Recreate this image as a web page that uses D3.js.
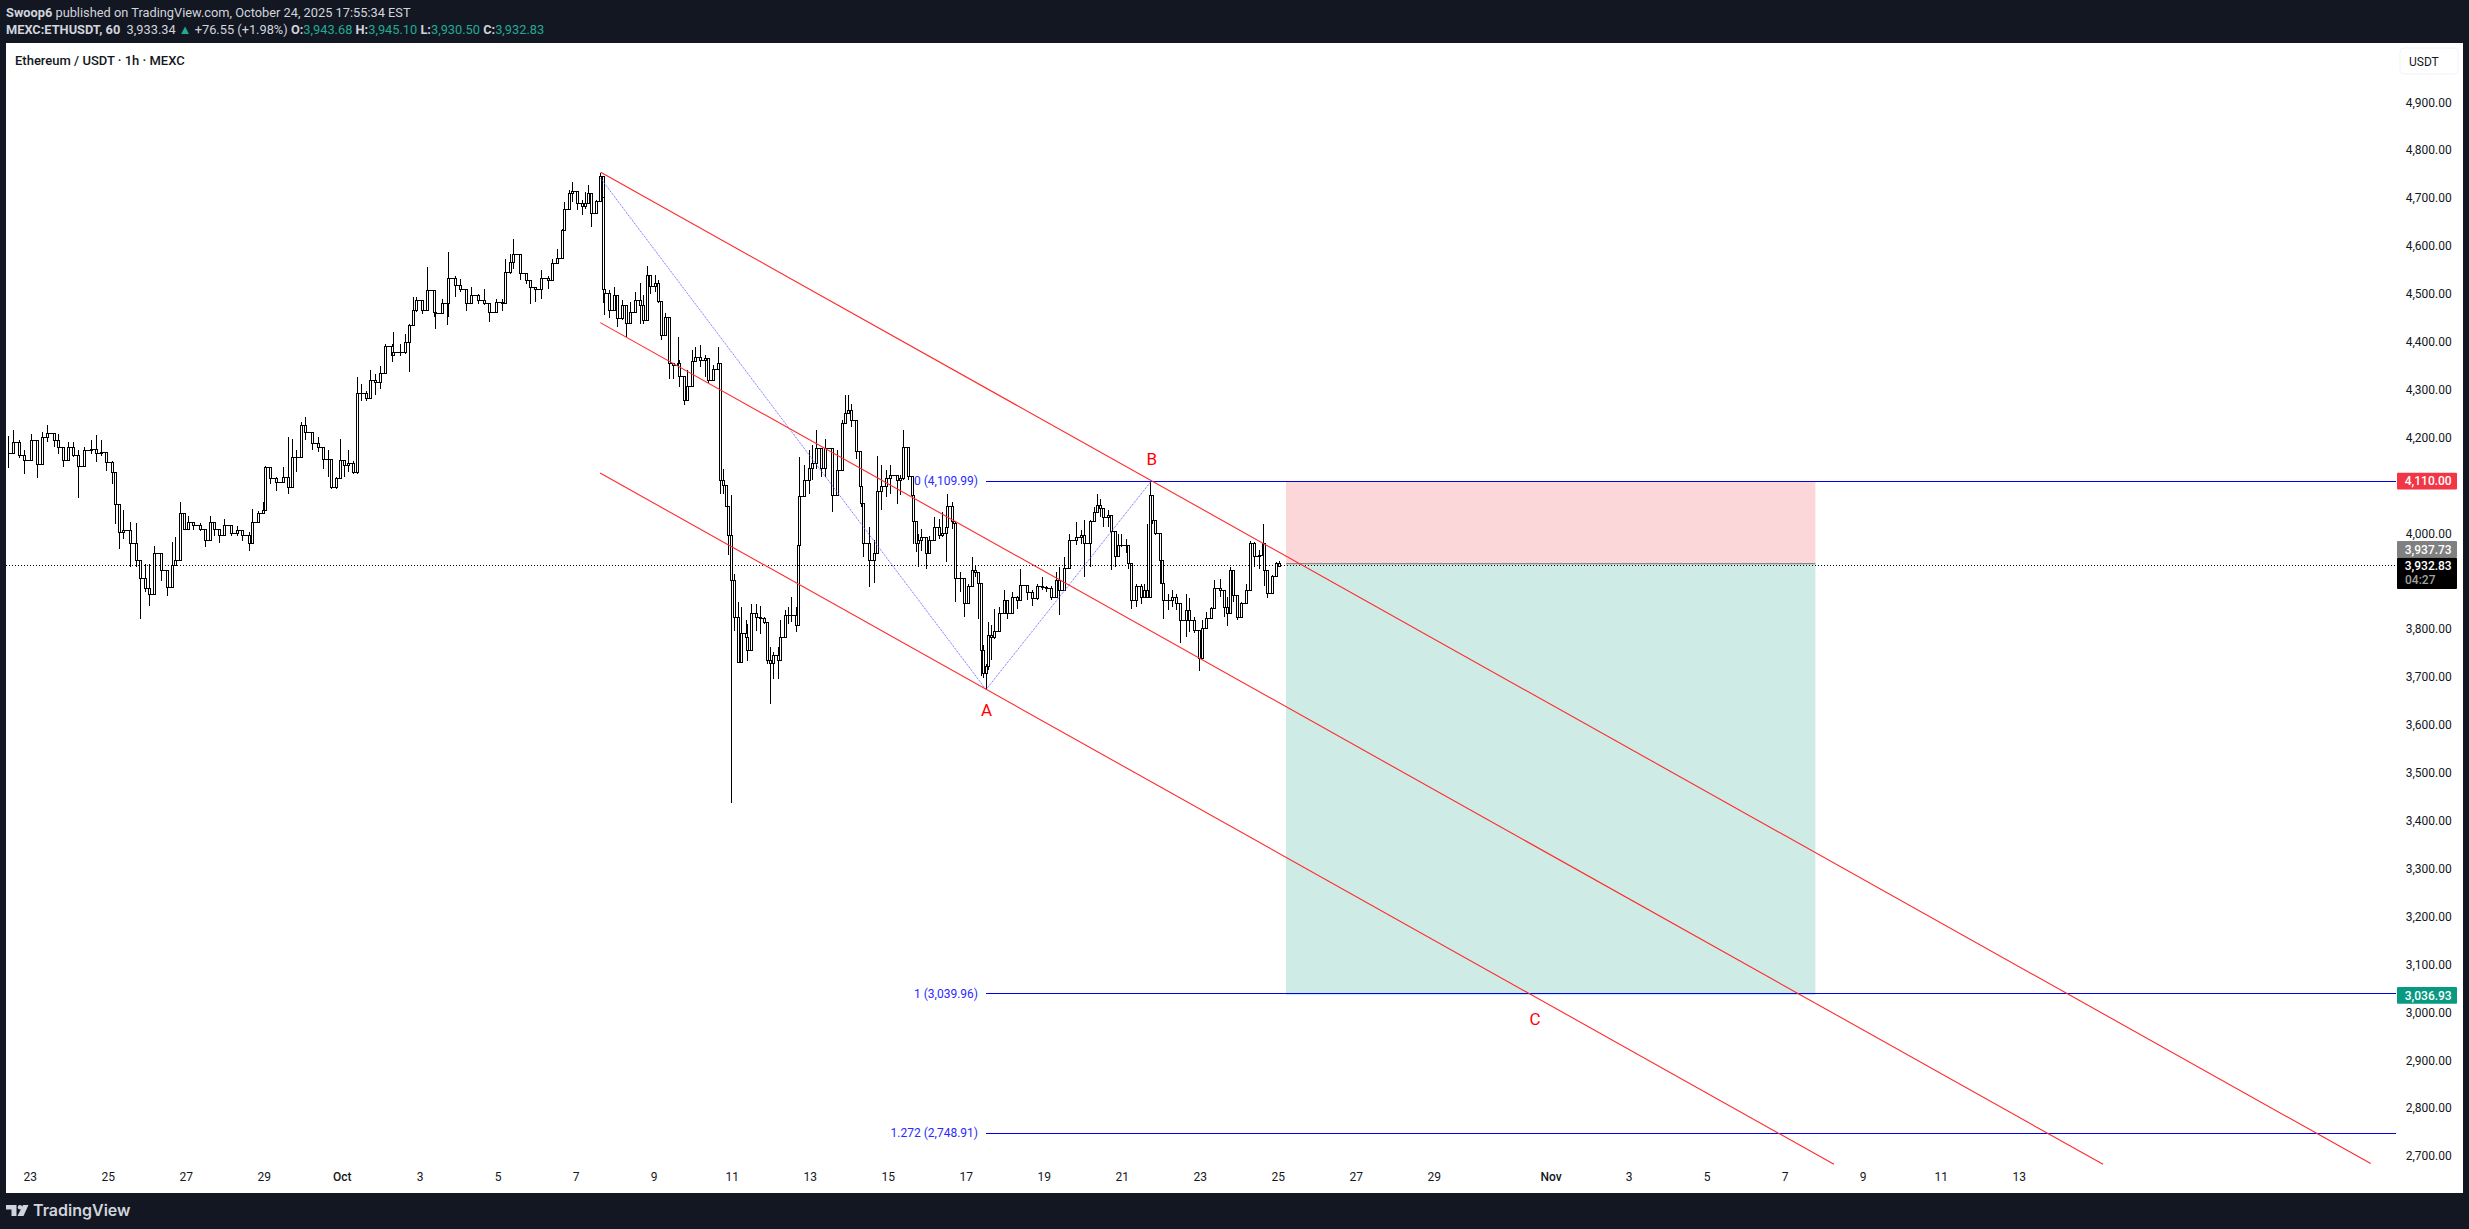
<!DOCTYPE html>
<html>
<head>
<meta charset="utf-8">
<title>ETHUSDT</title>
<script src="https://cdn.jsdelivr.net/npm/d3@7"></script>
<style>
  html, body { margin: 0; padding: 0; background: #131722; }
  svg { display: block; font-family: Roboto, sans-serif; }
</style>
</head>
<body>
<div id="chart"></div>
<script>
// hours since Sep 22 00:00, one entry per drawn bar
var barHours = [
  11,14,18,21,25,29,32,35,39,42, 45,48,51,54,58,62,65,68,71,75,
  77,79,82,86,90,92,95,98,101,105, 109,112,114,117,119,122,125,129,132,135,
  138,141,144,148,152,155,159,161,165,168, 169,172,176,180,183,186,188,191,194,198,
  202,205,208,210,213,215,218,220,223,226, 228,231,234,237,240,243,247,248,252,255,
  258,260,262,266,269,273,274,278,281,282, 286,289,293,296,300,304,307,311,315,317,
  320,322,326,330,332,335,339,343,346,349, 352,
  353,356,358,361,364,366,368,370,373,375, 377,377,378,381,384,386,389,391,394,397,
  400,402,404,406,409,411,413,415,418,420, 423,424,427,429,432,434,437,440,442,445, 448,
  449,451,453,454,456,458,460,462,465,466, 468,471,474,476,478,480,482,485,486,489,
  491,493,496,497,498,501,504,506,508,511, 514,518,521,524,526,528,530,533,535,536,
  537,541,544,546,548,551,554,558,560,562, 565,567,568,570,571,573,576,578,581,584,
  586,588,589,592,593,594,597,599,602,604, 606,608,610,611,613,614,616,618,621,624,
  626,629,632,634,638,641,644,647,650,653, 656,658,661,664,668,671,673,677,679,681,
  683,685,688,690,692,694,696,699,700,702, 705,708,710,712,714,715,717,720,721,722,
  725,727,730,732,736,738,741,744,746,748, 751,753,757,759,761,763,765,767,770,773,
  775,778,781,783,784,786,789,791,793
];
var highs = [
  4205,4216,4195,4174,4209,4195,4212,4228,4209,4209, 4181,4191,4191,4174,4182,4195,4206,4195,4170,4153,
  4101,4042,4050,4024,4022,3944,3937,3937,3975,3948, 3916,3982,3993,4067,4042,4038,4024,4022,4010,4038,
  4021,4007,4031,4010,4017,4007,4003,4052,4048,4066, 4142,4135,4118,4139,4202,4198,4174,4233,4243,4205,
  4202,4174,4174,4125,4118,4198,4149,4174,4153,4327, 4313,4299,4341,4334,4351,4396,4396,4421,4396,4417,
  4438,4494,4494,4483,4557,4477,4473,4490,4487,4588, 4539,4532,4490,4515,4501,4511,4477,4490,4490,4574,
  4584,4616,4553,4543,4522,4515,4550,4539,4574,4595, 4637,
  4693,4717,4735,4704,4697,4714,4728,4682,4696,4754, 4745,4606,4523,4508,4516,4498,4488,4463,4484,4505,
  4523,4498,4559,4540,4540,4530,4481,4460,4446,4355, 4411,4363,4328,4342,4383,4390,4394,4373,4348,4352, 4390,
  4355,4136,4098,4025,4080,3917,3858,3847,3819,3812, 3854,3854,3850,3826,3812,3763,3753,3763,3819,3840,
  3847,3868,3847,4025,4160,4143,4174,4185,4216,4146, 4197,4164,4174,4237,4289,4289,4272,4230,4157,4126,
  4028,4014,3987,4162,4143,4133,4143,4122,4122,4216, 4157,4104,4104,4014,4000,4010,3979,3996,4035,4031,
  4045,4045,4084,4066,4021,3965,3920,3882,3896,3951, 3934,3920,3822,3767,3729,3816,3809,3844,3847,3882,
  3847,3879,3871,3927,3889,3882,3896,3910,3892,3892, 3920,3930,3951,4000,4025,4007,4028,4028,4056,4084,
  4073,4053,4049,4039,3976,4000,4000,3990,3952,3920, 3896,3896,3896,4021,4108,4039,4021,3966,3945,3886,
  3875,3882,3875,3840,3875,3865,3826,3785,3819,3837, 3847,3903,3906,3865,3868,3931,3924,3858,3858,3896,
  3986,3983,3966,4021,3979,3889,3913,3941,3943
];
var lows = [
  4138,4167,4158,4125,4174,4117,4174,4191,4181,4167, 4139,4160,4160,4075,4167,4167,4149,4163,4132,4104,
  4021,3968,3989,3930,3930,3822,3878,3850,3916,3902, 3871,3906,3944,3979,4007,4010,4007,4005,3972,3993,
  3996,3980,4007,3996,3996,3986,3965,4017,4031,4042, 4048,4104,4090,4108,4083,4129,4129,4184,4195,4174,
  4170,4135,4118,4094,4094,4149,4118,4129,4125,4125, 4278,4278,4313,4289,4303,4334,4358,4372,4372,4376,
  4337,4445,4463,4459,4483,4452,4428,4470,4435,4452, 4494,4504,4466,4487,4480,4477,4442,4470,4466,4529,
  4543,4553,4529,4522,4480,4483,4490,4511,4529,4564, 4577,
  4637,4679,4693,4675,4665,4679,4696,4640,4679,4693, 4594,4481,4456,4450,4467,4432,4446,4411,4439,4480,
  4439,4439,4495,4501,4505,4481,4404,4432,4324,4324, 4349,4307,4269,4305,4335,4363,4349,4327,4314,4321, 4348,
  4084,4084,4056,3955,3437,3798,3730,3760,3777,3735, 3819,3798,3791,3812,3728,3644,3697,3697,3777,3816,
  3812,3816,3795,3809,4035,4080,4084,4112,4136,4118, 4118,4045,4094,4160,4230,4251,4223,4157,4091,4056,
  3952,3889,3898,4053,4049,4077,4084,4063,4080,4112, 4112,4077,3979,3962,3930,3965,3927,3958,3993,3990,
  3993,3941,4031,4010,3969,3857,3878,3826,3861,3896, 3910,3822,3704,3698,3675,3715,3736,3781,3816,3840,
  3823,3844,3844,3875,3861,3850,3861,3882,3878,3861, 3875,3830,3903,3955,3976,3979,3910,3931,4025,4049,
  4035,4014,4014,3924,3931,3959,3973,3959,3927,3844, 3847,3854,3875,3865,4000,4021,3997,3896,3896,3823,
  3840,3847,3840,3772,3785,3795,3792,3714,3753,3816, 3826,3847,3868,3826,3807,3875,3858,3819,3830,3872,
  3896,3931,3927,3945,3892,3866,3889,3927,3931
];
var closes = [
  4167,4191,4163,4154,4195,4145,4202,4209,4195,4181, 4153,4181,4163,4140,4174,4177,4167,4170,4149,4129,
  4062,4003,4007,3979,3944,3906,3885,3874,3958,3923, 3888,3934,3944,4042,4010,4024,4017,4010,3986,4024,
  4010,3996,4017,4001,4007,3996,3979,4024,4042,4048, 4139,4115,4108,4118,4097,4160,4160,4226,4212,4188,
  4181,4156,4156,4097,4115,4153,4142,4146,4129,4292, 4292,4282,4320,4316,4334,4390,4372,4379,4379,4400,
  4435,4466,4487,4466,4508,4463,4459,4480,4480,4532, 4518,4511,4480,4497,4487,4480,4463,4483,4480,4546,
  4567,4584,4543,4529,4515,4511,4532,4529,4564,4574, 4633,
  4676,4711,4714,4689,4683,4689,4710,4669,4693,4745, 4703,4509,4502,4467,4498,4450,4477,4439,4462,4488,
  4477,4445,4540,4516,4523,4484,4415,4452,4356,4352, 4356,4328,4279,4308,4359,4369,4362,4366,4321,4342, 4355,
  4112,4101,4056,3997,3903,3826,3732,3791,3784,3757, 3833,3826,3823,3814,3736,3729,3746,3736,3784,3830,
  3830,3830,3809,3976,4077,4112,4136,4146,4178,4136, 4178,4080,4133,4230,4251,4258,4237,4171,4098,4063,
  3980,3945,3959,4088,4098,4115,4122,4112,4115,4181, 4119,4080,4025,3979,3986,3993,3958,3986,4014,3996,
  4000,4014,4056,4025,4021,3906,3906,3854,3889,3923, 3920,3896,3757,3708,3722,3788,3784,3795,3833,3861,
  3833,3868,3861,3892,3878,3864,3889,3888,3885,3868, 3903,3882,3927,3986,3993,3997,3979,4025,4045,4060,
  4053,4035,4039,4004,3952,3976,3976,3976,3938,3861, 3889,3868,3882,3868,4080,4028,4000,3945,3896,3861,
  3861,3868,3854,3819,3840,3819,3798,3739,3802,3823, 3844,3886,3882,3847,3833,3924,3872,3826,3854,3882,
  3979,3952,3955,3979,3924,3875,3911,3938,3932
];

// 4,100 and 3,900 sit behind the price tags in the picture, so they are left out
var priceTicks = [4900,4800,4700,4600,4500,4400,4300,4200,4000,3800,3700,3600,3500,3400,3300,3200,3100,3000,2900,2800,2700];
var timeTickDates = ["2025-09-23","2025-09-25","2025-09-27","2025-09-29","2025-10-01","2025-10-03","2025-10-05","2025-10-07","2025-10-09","2025-10-11","2025-10-13","2025-10-15","2025-10-17","2025-10-19","2025-10-21","2025-10-23","2025-10-25","2025-10-27","2025-10-29","2025-11-01","2025-11-03","2025-11-05","2025-11-07","2025-11-09","2025-11-11","2025-11-13"];
var timeTickLabels = ["23","25","27","29","Oct","3","5","7","9","11","13","15","17","19","21","23","25","27","29","Nov","3","5","7","9","11","13"];

// [hours, price] pairs for the drawings
var channelUpper = [[375.4,4754.7],[1464.6,2685.2]];
var channelMiddle = [[375.1,4440.9],[1299.9,2683.7]];
var channelLower = [[375,4126.9],[1134.3,2683.7]];
var zigzag = [[375.4,4742],[612.5,3674.7],[714.2,4109.99]];
var waveNames = ["A","B","C"];
var wavePoints = [[612.9,3632],[714.5,4155.5],[950.3,2987]];

var fibLabels = ["0 (4,109.99)","1 (3,039.96)","1.272 (2,748.91)"];
var fibPrices = [4109.99,3039.96,2748.91];
var fibStartHour = 612.5;

var boxHours = [797.1,1122.9];
var stopPrice = 4110, entryPrice = 3937.73, targetPrice = 3036.93;
var lastPrice = 3932.83;

var width = 2469, height = 1229;
var plot = {left: 6, top: 43, right: 2463, bottom: 1193};
var seriesRight = 2396;

var svg = d3.select("#chart").append("svg")
    .attr("width", width)
    .attr("height", height);

svg.append("rect").attr("width", width).attr("height", height).attr("fill", "#131722");
svg.append("rect")
    .attr("x", plot.left).attr("y", plot.top)
    .attr("width", plot.right - plot.left).attr("height", plot.bottom - plot.top)
    .attr("fill", "#ffffff");

var x = d3.scaleUtc()
    .domain([new Date("2025-09-23T00:00:00Z"), new Date("2025-11-13T00:00:00Z")])
    .range([29.7, 2018.7]);
var y = d3.scaleLinear().domain([4900, 2700]).range([102.7, 1156.5]);

var start = Date.UTC(2025, 8, 22);
function tx(h) { return x(new Date(start + h * 3600000)); }
var clipId = "plot-clip";
svg.append("clipPath").attr("id", clipId).append("rect")
    .attr("x", plot.left).attr("y", plot.top)
    .attr("width", seriesRight - plot.left).attr("height", plot.bottom - plot.top);

var g = svg.append("g").attr("clip-path", "url(#" + clipId + ")");

// long / short box
g.append("rect")
    .attr("x", tx(boxHours[0])).attr("width", tx(boxHours[1]) - tx(boxHours[0]))
    .attr("y", y(stopPrice)).attr("height", y(entryPrice) - y(stopPrice))
    .attr("fill", "#fcd7da");
g.append("rect")
    .attr("x", tx(boxHours[0])).attr("width", tx(boxHours[1]) - tx(boxHours[0]))
    .attr("y", y(entryPrice)).attr("height", y(targetPrice) - y(entryPrice))
    .attr("fill", "#cfebe5");
g.append("line")
    .attr("x1", tx(boxHours[0])).attr("x2", tx(boxHours[1]))
    .attr("y1", y(entryPrice)).attr("y2", y(entryPrice))
    .attr("stroke", "#888888").attr("stroke-width", 1.2);

// bars: open is the previous close, body is hollow
var barIdx = d3.range(barHours.length);
var bars = g.append("g").attr("shape-rendering", "crispEdges");
function openOf(i) { return i > 0 ? closes[i - 1] : closes[i]; }
bars.selectAll("line.wick")
    .data(barIdx)
    .enter().append("line")
    .attr("class", "wick")
    .attr("x1", function (i) { return tx(barHours[i]); })
    .attr("x2", function (i) { return tx(barHours[i]); })
    .attr("y1", function (i) { return y(highs[i]); })
    .attr("y2", function (i) { return y(lows[i]); })
    .attr("stroke", "#000").attr("stroke-width", 1);
bars.selectAll("line.link")
    .data(barIdx.slice(1))
    .enter().append("line")
    .attr("class", "link")
    .attr("x1", function (i) { return tx(barHours[i - 1]); })
    .attr("x2", function (i) { return tx(barHours[i]); })
    .attr("y1", function (i) { return y(closes[i - 1]); })
    .attr("y2", function (i) { return y(closes[i - 1]); })
    .attr("stroke", "#000").attr("stroke-width", 1);
bars.selectAll("rect.body")
    .data(barIdx)
    .enter().append("rect")
    .attr("class", "body")
    .attr("x", function (i) { return tx(barHours[i]) - 1; })
    .attr("width", 2)
    .attr("y", function (i) { return y(Math.max(openOf(i), closes[i])); })
    .attr("height", function (i) { return Math.abs(y(openOf(i)) - y(closes[i])); })
    .attr("fill", "#fff").attr("stroke", "#000").attr("stroke-width", 1);

// last price dotted line
g.append("line")
    .attr("x1", plot.left).attr("x2", seriesRight)
    .attr("y1", y(lastPrice)).attr("y2", y(lastPrice))
    .attr("stroke", "#000").attr("stroke-width", 1).attr("stroke-dasharray", "1,2")
    .attr("shape-rendering", "crispEdges");

// fib levels
g.selectAll("line.fib")
    .data(fibPrices)
    .enter().append("line")
    .attr("class", "fib")
    .attr("x1", tx(fibStartHour)).attr("x2", seriesRight)
    .attr("y1", function (d) { return y(d); })
    .attr("y2", function (d) { return y(d); })
    .attr("stroke", "#0000ee").attr("stroke-width", 1)
    .attr("shape-rendering", "crispEdges");

// zigzag
var pathLine = d3.line()
    .x(function (d) { return tx(d[0]); })
    .y(function (d) { return y(d[1]); });
g.append("path")
    .attr("d", pathLine(zigzag))
    .attr("fill", "none").attr("stroke", "#5a5aff")
    .attr("stroke-width", 1).attr("stroke-dasharray", "1,1");

// channel
[channelUpper, channelMiddle, channelLower].forEach(function (c) {
    g.append("path")
        .attr("d", pathLine(c))
        .attr("fill", "none").attr("stroke", "#ff2a2a").attr("stroke-width", 1.1);
});

svg.selectAll("text.fib-label")
    .data(fibLabels)
    .enter().append("text")
    .attr("class", "fib-label")
    .attr("x", tx(fibStartHour) - 8)
    .attr("y", function (d, i) { return y(fibPrices[i]); })
    .attr("dy", "0.35em")
    .attr("text-anchor", "end")
    .attr("font-size", 12)
    .attr("fill", "#2a2aff")
    .text(function (d) { return d; });

svg.selectAll("text.wave")
    .data(waveNames)
    .enter().append("text")
    .attr("class", "wave")
    .attr("x", function (d, i) { return tx(wavePoints[i][0]); })
    .attr("y", function (d, i) { return y(wavePoints[i][1]); })
    .attr("dy", "0.35em")
    .attr("text-anchor", "middle")
    .attr("font-size", 17)
    .attr("fill", "#ff0000")
    .text(function (d) { return d; });

// price axis
var yAxis = d3.axisRight(y)
    .tickValues(priceTicks)
    .tickSize(0)
    .tickPadding(0)
    .tickFormat(d3.format(",.2f"));
var yG = svg.append("g").attr("transform", "translate(2451.7,-0.5)").call(yAxis);
yG.select(".domain").remove();
yG.selectAll("text")
    .attr("text-anchor", "end")
    .attr("font-family", "Roboto, sans-serif")
    .attr("font-size", 12)
    .attr("fill", "#131722");

// time axis
var tickDates = timeTickDates.map(function (d) { return new Date(d + "T00:00:00Z"); });
var xAxis = d3.axisBottom(x)
    .tickValues(tickDates)
    .tickSize(0)
    .tickPadding(0)
    .tickFormat(function (d, i) { return timeTickLabels[i]; });
var xG = svg.append("g").attr("transform", "translate(0,1172)").call(xAxis);
xG.select(".domain").remove();
xG.selectAll("text")
    .attr("font-family", "Roboto, sans-serif")
    .attr("font-size", 12)
    .attr("fill", "#131722")
    .attr("font-weight", function (d, i) { return isNaN(+timeTickLabels[i]) ? 500 : 400; });

// price tags on the axis
function priceTag(price, top, bottom, fill, text) {
    svg.append("rect")
        .attr("x", 2397).attr("y", top)
        .attr("width", 60).attr("height", bottom - top)
        .attr("rx", 1).attr("fill", fill);
    svg.append("text")
        .attr("x", 2451.7).attr("y", top + 8.4)
        .attr("dy", "0.35em").attr("text-anchor", "end")
        .attr("font-size", 12).attr("fill", "#ffffff")
        .attr("font-weight", 500)
        .text(text);
}
var fmt = d3.format(",.2f");
priceTag(stopPrice, y(stopPrice) - 8.3, y(stopPrice) + 8.4, "#f23645", fmt(stopPrice));
priceTag(targetPrice, y(targetPrice) - 8, y(targetPrice) + 8.7, "#089981", fmt(targetPrice));
priceTag(entryPrice, 541, 557.7, "#808080", fmt(entryPrice));
priceTag(lastPrice, 557.7, 589, "#000000", fmt(lastPrice));
svg.append("text")
    .attr("x", 2405).attr("y", 583.5)
    .attr("font-size", 12).attr("fill", "#a0a0a0").attr("font-weight", 500)
    .text("04:27");

// currency button
svg.append("rect")
    .attr("x", 2400).attr("y", 48).attr("width", 58).attr("height", 26).attr("rx", 4)
    .attr("fill", "#fff").attr("stroke", "#f0f3fa");
svg.append("text")
    .attr("x", 2409).attr("y", 61.5).attr("dy", "0.35em")
    .attr("font-size", 12).attr("fill", "#131722").text("USDT");

// chart title
svg.append("text")
    .attr("x", 15).attr("y", 60.5).attr("dy", "0.35em")
    .attr("font-size", 13).attr("font-weight", 500).attr("fill", "#131722")
    .text("Ethereum / USDT \u00b7 1h \u00b7 MEXC");

// header
var head1 = svg.append("text")
    .attr("x", 6).attr("y", 12.5).attr("dy", "0.35em")
    .attr("font-size", 12.8).attr("fill", "#d1d4dc");
head1.append("tspan").attr("font-weight", 700).text("Swoop6");
head1.append("tspan").text(" published on TradingView.com, October 24, 2025 17:55:34 EST");

var headParts = [
    ["MEXC:ETHUSDT, 60", "#d1d4dc", 700],
    ["  3,933.34 ", "#d1d4dc", 400],
    ["\u25B2", "#22ab94", 400],
    [" +76.55 (+1.98%) ", "#d1d4dc", 400],
    ["O:", "#d1d4dc", 700],
    ["3,943.68 ", "#22ab94", 400],
    ["H:", "#d1d4dc", 700],
    ["3,945.10 ", "#22ab94", 400],
    ["L:", "#d1d4dc", 700],
    ["3,930.50 ", "#22ab94", 400],
    ["C:", "#d1d4dc", 700],
    ["3,932.83", "#22ab94", 400]
];
var head2 = svg.append("text")
    .attr("x", 6).attr("y", 30).attr("dy", "0.35em")
    .attr("font-size", 12.8).attr("xml:space", "preserve");
headParts.forEach(function (p) {
    head2.append("tspan").attr("fill", p[1]).attr("font-weight", p[2]).text(p[0]);
});

// logo
var logo = svg.append("g").attr("fill", "#d1d4dc");
logo.append("path").attr("d", "M6 1205H16.5V1216H11.5V1209.5H6Z");
logo.append("circle").attr("cx", 20).attr("cy", 1207.2).attr("r", 2.2);
logo.append("path").attr("d", "M23 1205H28.5L23.5 1216H17.5Z");
logo.append("text")
    .attr("x", 33).attr("y", 1210.7).attr("dy", "0.35em")
    .attr("font-family", "Inter, sans-serif")
    .attr("font-size", 16).attr("font-weight", 600)
    .text("TradingView");
</script>
</body>
</html>
